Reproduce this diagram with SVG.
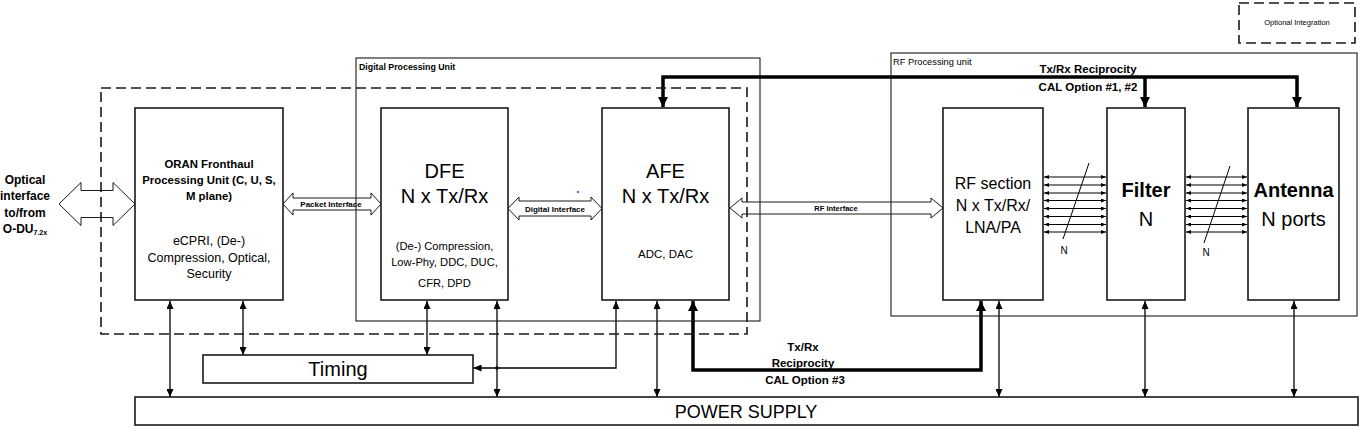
<svg xmlns="http://www.w3.org/2000/svg" width="1360" height="427" viewBox="0 0 1360 427">
<style>
text{font-family:"Liberation Sans",Arial,sans-serif;fill:#000}
.box{fill:#fff;stroke:#1a1a1a;stroke-width:1.6}
.cont{fill:none;stroke:#1a1a1a;stroke-width:1.1}
.dash{fill:none;stroke:#1a1a1a;stroke-width:1.6;stroke-dasharray:10 5}
.hol{fill:#fff;stroke:#1a1a1a;stroke-width:1}
.thin{fill:none;stroke:#000;stroke-width:1.3;marker-start:url(#at);marker-end:url(#at)}
.thick{fill:none;stroke:#000;stroke-width:3.5}
.nl{stroke:#000;stroke-width:1;marker-start:url(#an);marker-end:url(#an)}
.b{font-weight:bold}
.c{text-anchor:middle}
</style>
<defs>
<marker id="at" markerUnits="userSpaceOnUse" markerWidth="8" markerHeight="7" refX="8" refY="3.5" orient="auto-start-reverse"><path d="M0,0 L8,3.5 L0,7 Z" fill="#000"/></marker>
<marker id="ak" markerUnits="userSpaceOnUse" markerWidth="10" markerHeight="10" refX="10" refY="5" orient="auto-start-reverse"><path d="M0,0 L10,5 L0,10 Z" fill="#000"/></marker>
<marker id="an" markerUnits="userSpaceOnUse" markerWidth="5" markerHeight="4" refX="5" refY="2" orient="auto-start-reverse"><path d="M0,0 L5,2 L0,4 Z" fill="#000"/></marker>
</defs>

<g id="legend">
<rect x="1239" y="3" width="116" height="40" class="dash"/>
<text x="1297" y="25" class="c" font-size="7.5">Optional Integration</text>
</g>

<g id="optical-label">
<text class="b c" font-size="12"><tspan x="25" y="184">Optical</tspan><tspan x="25" y="200">interface</tspan><tspan x="25" y="217">to/from</tspan><tspan x="25" y="233">O-DU<tspan font-size="7" dy="2">7.2x</tspan></tspan></text>
</g>

<g id="connectors">
<path class="hol" d="M59,204 L81,182.5 L81,190.5 L113,190.5 L113,182.5 L135,204 L113,225.5 L113,217.5 L81,217.5 L81,225.5 Z"/>
<path class="hol" d="M283,204 L293,193 L293,198 L371,198 L371,193 L381,204 L371,215 L371,210 L293,210 L293,215 Z"/>
<text x="331" y="207" class="b c" font-size="8">Packet Interface</text>
<path class="hol" d="M508,208.5 L519,197 L519,201 L591,201 L591,197 L602,208.5 L591,220 L591,216 L519,216 L519,220 Z"/>
<text x="555" y="211.5" class="b c" font-size="8">Digital Interface</text>
<path class="hol" d="M730,208 L742,198 L742,202 L931,202 L931,198 L943,208 L931,218 L931,214 L742,214 L742,218 Z"/>
<text x="836" y="210.5" class="b c" font-size="7.5">RF Interface</text>

<path class="thick" d="M663,107 L663,77 L1297,77 L1297,107" marker-start="url(#ak)" marker-end="url(#ak)"/>
<path class="thick" d="M1145,77 L1145,107" marker-end="url(#ak)"/>
<text class="b c" font-size="11.5"><tspan x="1088" y="73">Tx/Rx Reciprocity</tspan><tspan x="1088" y="91">CAL Option #1, #2</tspan></text>

<path class="thick" d="M693,301 L693,370 L981,370 L981,301" marker-start="url(#ak)" marker-end="url(#ak)"/>
<text class="b c" font-size="11.5"><tspan x="803" y="351">Tx/Rx</tspan><tspan x="803" y="367">Reciprocity</tspan><tspan x="805" y="384">CAL Option #3</tspan></text>

<path class="thin" d="M170,301 L170,397"/>
<path class="thin" d="M243,301 L243,355"/>
<path class="thin" d="M427,301 L427,355"/>
<path class="thin" d="M497,301 L497,397"/>
<path class="thin" d="M616,301 L616,368 L473.5,368"/>
<circle cx="497" cy="368" r="1.8" fill="#000"/>
<path class="thin" d="M657,301 L657,397"/>
<path class="thin" d="M999,301 L999,397"/>
<path class="thin" d="M1145,301 L1145,397"/>
<path class="thin" d="M1294,301 L1294,397"/>

<g id="n-bus-1">
<line class="nl" x1="1044" y1="177" x2="1106" y2="177"/>
<line class="nl" x1="1044" y1="185" x2="1106" y2="185"/>
<line class="nl" x1="1044" y1="193" x2="1106" y2="193"/>
<line class="nl" x1="1044" y1="200.5" x2="1106" y2="200.5"/>
<line class="nl" x1="1044" y1="208.5" x2="1106" y2="208.5"/>
<line class="nl" x1="1044" y1="216.5" x2="1106" y2="216.5"/>
<line class="nl" x1="1044" y1="224.5" x2="1106" y2="224.5"/>
<line class="nl" x1="1044" y1="232" x2="1106" y2="232"/>
<line x1="1089" y1="163" x2="1063" y2="239" stroke="#000" stroke-width="1"/>
<text x="1064" y="254" class="c" font-size="10">N</text>
</g>
<g id="n-bus-2">
<line class="nl" x1="1186" y1="177" x2="1247" y2="177"/>
<line class="nl" x1="1186" y1="185" x2="1247" y2="185"/>
<line class="nl" x1="1186" y1="193" x2="1247" y2="193"/>
<line class="nl" x1="1186" y1="200.5" x2="1247" y2="200.5"/>
<line class="nl" x1="1186" y1="208.5" x2="1247" y2="208.5"/>
<line class="nl" x1="1186" y1="216.5" x2="1247" y2="216.5"/>
<line class="nl" x1="1186" y1="224.5" x2="1247" y2="224.5"/>
<line class="nl" x1="1186" y1="232" x2="1247" y2="232"/>
<line x1="1230" y1="166" x2="1204" y2="243" stroke="#000" stroke-width="1"/>
<text x="1206" y="256" class="c" font-size="10">N</text>
</g>
</g>

<g id="oran">
<rect x="135" y="108" width="148" height="192" class="box"/>
<text class="b c" font-size="11.4"><tspan x="209" y="168">ORAN Fronthaul</tspan><tspan x="209" y="184">Processing Unit (C, U, S,</tspan><tspan x="209" y="200">M plane)</tspan></text>
<text class="c" font-size="12.5"><tspan x="209" y="245">eCPRI, (De-)</tspan><tspan x="209" y="262">Compression, Optical,</tspan><tspan x="209" y="278">Security</tspan></text>
</g>

<g id="dfe">
<rect x="381" y="108" width="127" height="192" class="box"/>
<text class="c" font-size="20"><tspan x="444.5" y="178">DFE</tspan><tspan x="444.5" y="203">N x Tx/Rx</tspan></text>
<text class="c" font-size="11.2"><tspan x="444.5" y="250">(De-) Compression,</tspan><tspan x="444.5" y="266">Low-Phy, DDC, DUC,</tspan><tspan x="444.5" y="287">CFR, DPD</tspan></text>
</g>

<g id="afe">
<rect x="602" y="108" width="127" height="192" class="box"/>
<text class="c" font-size="20"><tspan x="665.5" y="178">AFE</tspan><tspan x="665.5" y="203">N x Tx/Rx</tspan></text>
<text x="665.5" y="258" class="c" font-size="11.5">ADC, DAC</text>
<circle cx="578" cy="192" r="1" fill="#1a1aff"/>
</g>

<g id="rf-section">
<rect x="943" y="108" width="100" height="192" class="box"/>
<text class="c" font-size="16"><tspan x="993" y="189">RF section</tspan><tspan x="993" y="211">N x Tx/Rx/</tspan><tspan x="993" y="233">LNA/PA</tspan></text>
</g>

<g id="filter">
<rect x="1107" y="108" width="78" height="192" class="box"/>
<text x="1146" y="197" class="b c" font-size="20">Filter</text>
<text x="1146" y="226" class="c" font-size="20">N</text>
</g>

<g id="antenna">
<rect x="1248" y="108" width="91" height="192" class="box"/>
<text x="1293.5" y="197" class="b c" font-size="20">Antenna</text>
<text x="1293.5" y="226" class="c" font-size="20">N ports</text>
</g>

<g id="timing">
<rect x="203" y="355" width="270" height="28" class="box"/>
<text x="338" y="376" class="c" font-size="20">Timing</text>
</g>

<g id="power-supply">
<rect x="135" y="397" width="1223" height="28" class="box"/>
<text x="746" y="418" class="c" font-size="18">POWER SUPPLY</text>
</g>

<g id="digital-processing-unit">
<rect x="356" y="58" width="404" height="263" class="cont"/>
<text x="359" y="70" class="b" font-size="8.8">Digital Processing Unit</text>
</g>

<g id="rf-processing-unit">
<rect x="891" y="53" width="466" height="263" class="cont"/>
<text x="893" y="65" font-size="9.3">RF Processing unit</text>
</g>

<g id="optional-integration">
<rect x="101" y="88" width="646" height="246" class="dash"/>
</g>
</svg>
